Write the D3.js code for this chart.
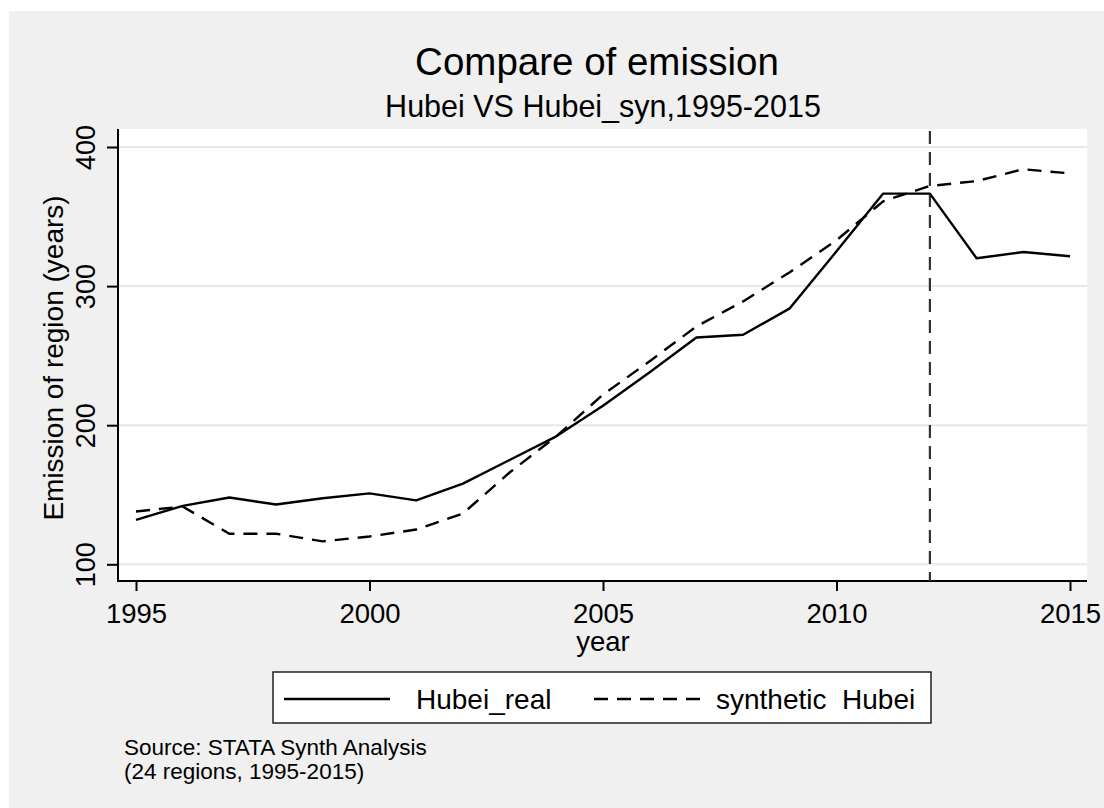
<!DOCTYPE html>
<html>
<head>
<meta charset="utf-8">
<script src="https://cdn.jsdelivr.net/npm/d3@7"></script>
<style>
  body { margin: 0; background: #fff; }
  text { font-family: "Liberation Sans", Arial, sans-serif; fill: #000; }
</style>
</head>
<body>
<svg id="chart" width="1104" height="808"></svg>
<script>
'use strict'

const years = d3.range(1995, 2016);
const hubeiReal = [132, 142, 148, 143, 147.5, 151, 146, 158, 175, 192, 214, 238, 263, 265, 284, 325, 366.5, 366.5, 320, 324.5, 321.5];
const hubeiSyn = [138, 141.5, 122, 122, 116.5, 120, 125, 136.5, 166, 192, 222, 246, 271, 289, 310, 333, 361, 372, 375.5, 384, 381];
const xTicks = [1995, 2000, 2005, 2010, 2015];
const yTicks = [100, 200, 300, 400];
const treatYear = 2012;
const legendLabels = ['Hubei_real', 'synthetic\u00a0 Hubei'];
const noteLines = ['Source: STATA Synth Analysis', '(24 regions, 1995-2015)'];

const svg = d3.select('#chart');

// stata-ish gray page
svg.append('rect')
  .attr('x', 9).attr('y', 11)
  .attr('width', 1095).attr('height', 797)
  .attr('fill', '#f0f0f0');

const plot = { left: 118, right: 1087, top: 129, bottom: 581 };

svg.append('rect')
  .attr('x', plot.left).attr('y', plot.top)
  .attr('width', plot.right - plot.left).attr('height', plot.bottom - plot.top)
  .attr('fill', '#fff');

const x = d3.scaleLinear().domain([1995, 2015]).range([136, 1070]);
const y = d3.scaleLinear().domain([100, 400]).range([564.3, 147]);

// gridlines
svg.append('g')
  .selectAll('line')
  .data(yTicks)
  .join('line')
    .attr('x1', plot.left).attr('x2', plot.right)
    .attr('y1', d => y(d)).attr('y2', d => y(d))
    .attr('stroke', '#e8e8e8')
    .attr('stroke-width', 2);

// axes
const yAxis = d3.axisLeft(y).tickValues(yTicks).tickSize(11).tickFormat(d3.format('d'));
const gy = svg.append('g')
  .attr('transform', 'translate(' + plot.left + ',0)')
  .call(yAxis);
gy.select('.domain').remove();
gy.selectAll('.tick line').attr('stroke', '#000').attr('stroke-width', 2);
gy.selectAll('.tick text')
  .attr('font-size', 27)
  .attr('text-anchor', 'middle')
  .attr('x', 0).attr('y', 0)
  .attr('dy', null)
  .attr('transform', 'translate(-23,0) rotate(-90)');

const xAxis = d3.axisBottom(x).tickValues(xTicks).tickSize(10).tickFormat(d3.format('d'));
const gx = svg.append('g')
  .attr('transform', 'translate(0,' + plot.bottom + ')')
  .call(xAxis);
gx.select('.domain').remove();
gx.selectAll('.tick line').attr('stroke', '#000').attr('stroke-width', 2);
gx.selectAll('.tick text')
  .attr('font-size', 27.5)
  .attr('y', 42).attr('dy', null);

svg.append('line')
  .attr('x1', plot.left).attr('x2', plot.left)
  .attr('y1', plot.top).attr('y2', plot.bottom + 1)
  .attr('stroke', '#000').attr('stroke-width', 2);
svg.append('line')
  .attr('x1', plot.left - 1).attr('x2', plot.right)
  .attr('y1', plot.bottom).attr('y2', plot.bottom)
  .attr('stroke', '#000').attr('stroke-width', 2);

// treatment line
svg.append('line')
  .attr('x1', x(treatYear)).attr('x2', x(treatYear))
  .attr('y1', plot.top + 2).attr('y2', plot.bottom)
  .attr('stroke', '#333').attr('stroke-width', 2.2)
  .attr('stroke-dasharray', '13,8');

// series
const line = d3.line()
  .x((d, i) => x(years[i]))
  .y(d => y(d));

svg.append('path')
  .datum(hubeiReal)
  .attr('d', line)
  .attr('fill', 'none')
  .attr('stroke', '#000')
  .attr('stroke-width', 2.4)
  .attr('stroke-linejoin', 'round');

svg.append('path')
  .datum(hubeiSyn)
  .attr('d', line)
  .attr('fill', 'none')
  .attr('stroke', '#000')
  .attr('stroke-width', 2.4)
  .attr('stroke-dasharray', '14,9');

// titles
svg.append('text')
  .attr('x', 597).attr('y', 75)
  .attr('text-anchor', 'middle')
  .attr('font-size', 38.5)
  .text('Compare of emission');
svg.append('text')
  .attr('x', 603).attr('y', 117)
  .attr('text-anchor', 'middle')
  .attr('font-size', 30.5)
  .text('Hubei VS Hubei_syn,1995-2015');

svg.append('text')
  .attr('text-anchor', 'middle')
  .attr('font-size', 28)
  .attr('transform', 'translate(63,358) rotate(-90)')
  .text('Emission of region (years)');
svg.append('text')
  .attr('x', 603).attr('y', 651)
  .attr('text-anchor', 'middle')
  .attr('font-size', 27.5)
  .text('year');

// legend
const legend = svg.append('g');
legend.append('rect')
  .attr('x', 273).attr('y', 672)
  .attr('width', 658).attr('height', 51)
  .attr('fill', '#fff')
  .attr('stroke', '#222').attr('stroke-width', 1.5);

const legendKeys = [
  { x0: 284, x1: 390, tx: 416, dash: null },
  { x0: 594, x1: 700, tx: 716, dash: '14,9' }
];
legendKeys.forEach((k, i) => {
  legend.append('line')
    .attr('x1', k.x0).attr('x2', k.x1)
    .attr('y1', 699).attr('y2', 699)
    .attr('stroke', '#000').attr('stroke-width', 2.4)
    .attr('stroke-dasharray', k.dash);
  legend.append('text')
    .attr('x', k.tx).attr('y', 709)
    .attr('font-size', 28)
    .text(legendLabels[i]);
});

// note
svg.append('g')
  .selectAll('text')
  .data(noteLines)
  .join('text')
    .attr('x', 124)
    .attr('y', (d, i) => 755 + i * 24)
    .attr('font-size', 22.5)
    .text(d => d);
</script>
</body>
</html>
